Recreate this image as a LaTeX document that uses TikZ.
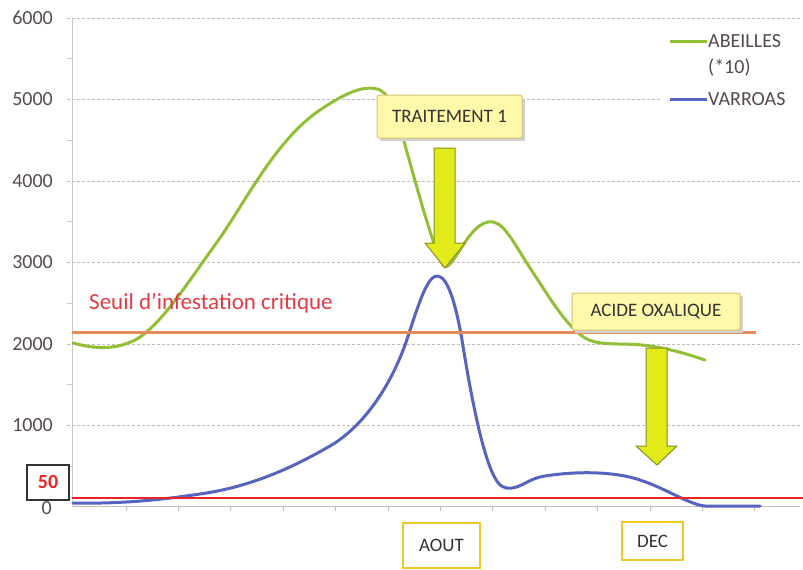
\documentclass[tikz,border=0pt]{standalone}
\usepackage{fontspec}
\setmainfont{Carlito}
\definecolor{gridc}{RGB}{195,185,185}
\definecolor{axisc}{RGB}{205,200,200}
\definecolor{labc}{RGB}{85,75,75}
\definecolor{beeg}{RGB}{145,192,55}
\definecolor{varb}{RGB}{85,100,190}
\definecolor{seuilo}{RGB}{230,140,90}
\definecolor{lred}{RGB}{235,35,35}
\definecolor{seuilt}{RGB}{225,60,70}
\definecolor{arrf}{RGB}{225,235,25}
\definecolor{arrd}{RGB}{140,140,35}
\definecolor{notef}{RGB}{255,249,170}
\definecolor{noted}{RGB}{215,195,110}
\definecolor{monthd}{RGB}{242,200,40}
\begin{document}
\begin{tikzpicture}[x=1pt,y=-1pt,
  ylab/.style={anchor=east,text=labc,font=\fontsize{20}{22}\selectfont,inner sep=0pt},
  legt/.style={anchor=west,text=labc,font=\fontsize{20}{22}\selectfont,inner sep=0pt},
  gridline/.style={gridc,line width=0.8pt,densely dashed},
  curve/.style={line width=3pt,line join=round,line cap=round},
  notebox/.style={draw=noted,fill=notef,line width=1pt,rounded corners=1.5pt,
     font=\fontsize{19}{21}\selectfont,text=black!80,inner sep=0pt},
  monthbox/.style={draw=monthd,fill=white,line width=1.8pt,
     font=\fontsize{19}{21}\selectfont,text=black!80,inner sep=0pt},
  bigarrow/.style={fill=arrf,draw=arrd,line width=1pt,line join=miter}
]
\useasboundingbox[fill=white] (0,0) rectangle (803,570);
% grid
\foreach \v/\y in {6000/18,5000/99,4000/181,3000/262,2000/344,1000/425}{
  \draw[gridline] (67,\y) -- (800,\y);
}
\foreach \y in {58.5,140,221.5,303,384.5,466}{
  \draw[axisc,line width=0.8pt] (67,\y) -- (72,\y);
}
\draw[axisc,line width=0.8pt] (72,18) -- (72,506);
\draw[gridc,line width=0.8pt] (72,506) -- (800,506);
\foreach \k in {1,...,13}{
  \draw[gridc,line width=0.8pt] ({73.6+52.4*\k},506) -- ({73.6+52.4*\k},511);
}
% y labels
\node[ylab] (l6000) at (53,18) {6000};
\node[ylab] (l5000) at (53,99) {5000};
\node[ylab] (l4000) at (53,181) {4000};
\node[ylab] (l3000) at (53,262) {3000};
\node[ylab] (l2000) at (53,344) {2000};
\node[ylab] (l1000) at (53,425) {1000};
\node[ylab] (l0) at (52,508) {0};
% legend
\fill[white] (662,26) rectangle (800,113);
\coordinate (lg1) at (670,41);
\coordinate (lg2) at (707,41);
\draw[beeg,line width=3pt] (lg1) -- (lg2);
\node[legt] (abeilles) at (708,41) {ABEILLES};
\node[legt] (x10) at (708,68) {(*10)};
\coordinate (lv1) at (670,99);
\coordinate (lv2) at (707,99);
\draw[varb,line width=3pt] (lv1) -- (lv2);
\node[legt] (varroas) at (708,99) {VARROAS};
% curves
\draw[curve,beeg] (73,343) .. controls (95,349) and (115,350) .. (135,340)
 .. controls (160,327) and (188,282) .. (215,245)
 .. controls (244,205) and (275,140) .. (320,110)
 .. controls (345,93) and (365,84) .. (380,90)
 .. controls (392,96) and (398,120) .. (403,138)
 .. controls (415,180) and (432,245) .. (443,265)
 .. controls (447,270) and (452,262) .. (460,250)
 .. controls (470,234) and (480,220) .. (493,222)
 .. controls (505,224) and (515,245) .. (530,268)
 .. controls (548,295) and (565,325) .. (585,338)
 .. controls (600,347) and (625,342) .. (650,346)
 .. controls (675,350) and (690,355) .. (705,360);
\draw[curve,varb] (73,503) .. controls (120,504) and (160,500) .. (200,494)
 .. controls (250,487) and (292,468) .. (330,446)
 .. controls (366,425) and (395,380) .. (410,330)
 .. controls (420,300) and (428,276) .. (437,276)
 .. controls (447,276) and (455,300) .. (462,340)
 .. controls (470,390) and (482,455) .. (495,478)
 .. controls (500,487) and (505,489) .. (512,488)
 .. controls (522,487) and (530,478) .. (545,476)
 .. controls (570,472) and (610,470) .. (640,480)
 .. controls (665,488) and (690,505) .. (705,506)
 -- (760,506);
% threshold lines
\draw[seuilo,line width=3pt] (72,332) -- (756,332);
\draw[lred,line width=2pt] (72,497.5) -- (803,497.5);
\node[anchor=west,text=seuilt,font=\fontsize{23}{25}\selectfont,inner sep=0pt] (seuil) at (89,303) {Seuil d’infestation critique};
% 50 box
\node[draw=black!80,fill=white,line width=2pt,minimum width=42pt,minimum height=35pt,inner sep=0pt,
  text=lred,font=\bfseries\fontsize{20}{22}\selectfont] (b50) at (48,482) {50};
% arrows
\draw[bigarrow] (434,148) -- (455,148) -- (455,243) -- (465,243) -- (445,268) -- (425,243) -- (434,243) -- cycle;
\draw[bigarrow] (646,348) -- (667,348) -- (667,446) -- (677,446) -- (657,465) -- (636,446) -- (646,446) -- cycle;
% note boxes
\fill[black!18] (380,99) rectangle (525,141);
\node[notebox,minimum width=145pt,minimum height=43pt] (t1) at (449.5,116.5) {TRAITEMENT 1};
\fill[black!18] (575,296) rectangle (743,333);
\node[notebox,minimum width=168pt,minimum height=37pt] (acide) at (656,311.5) {ACIDE OXALIQUE};
% month boxes
\node[monthbox,minimum width=77pt,minimum height=45pt] (aout) at (441.5,545.5) {AOUT};
\node[monthbox,minimum width=61pt,minimum height=38pt] (dec) at (652.5,541) {DEC};
\end{tikzpicture}
\end{document}
